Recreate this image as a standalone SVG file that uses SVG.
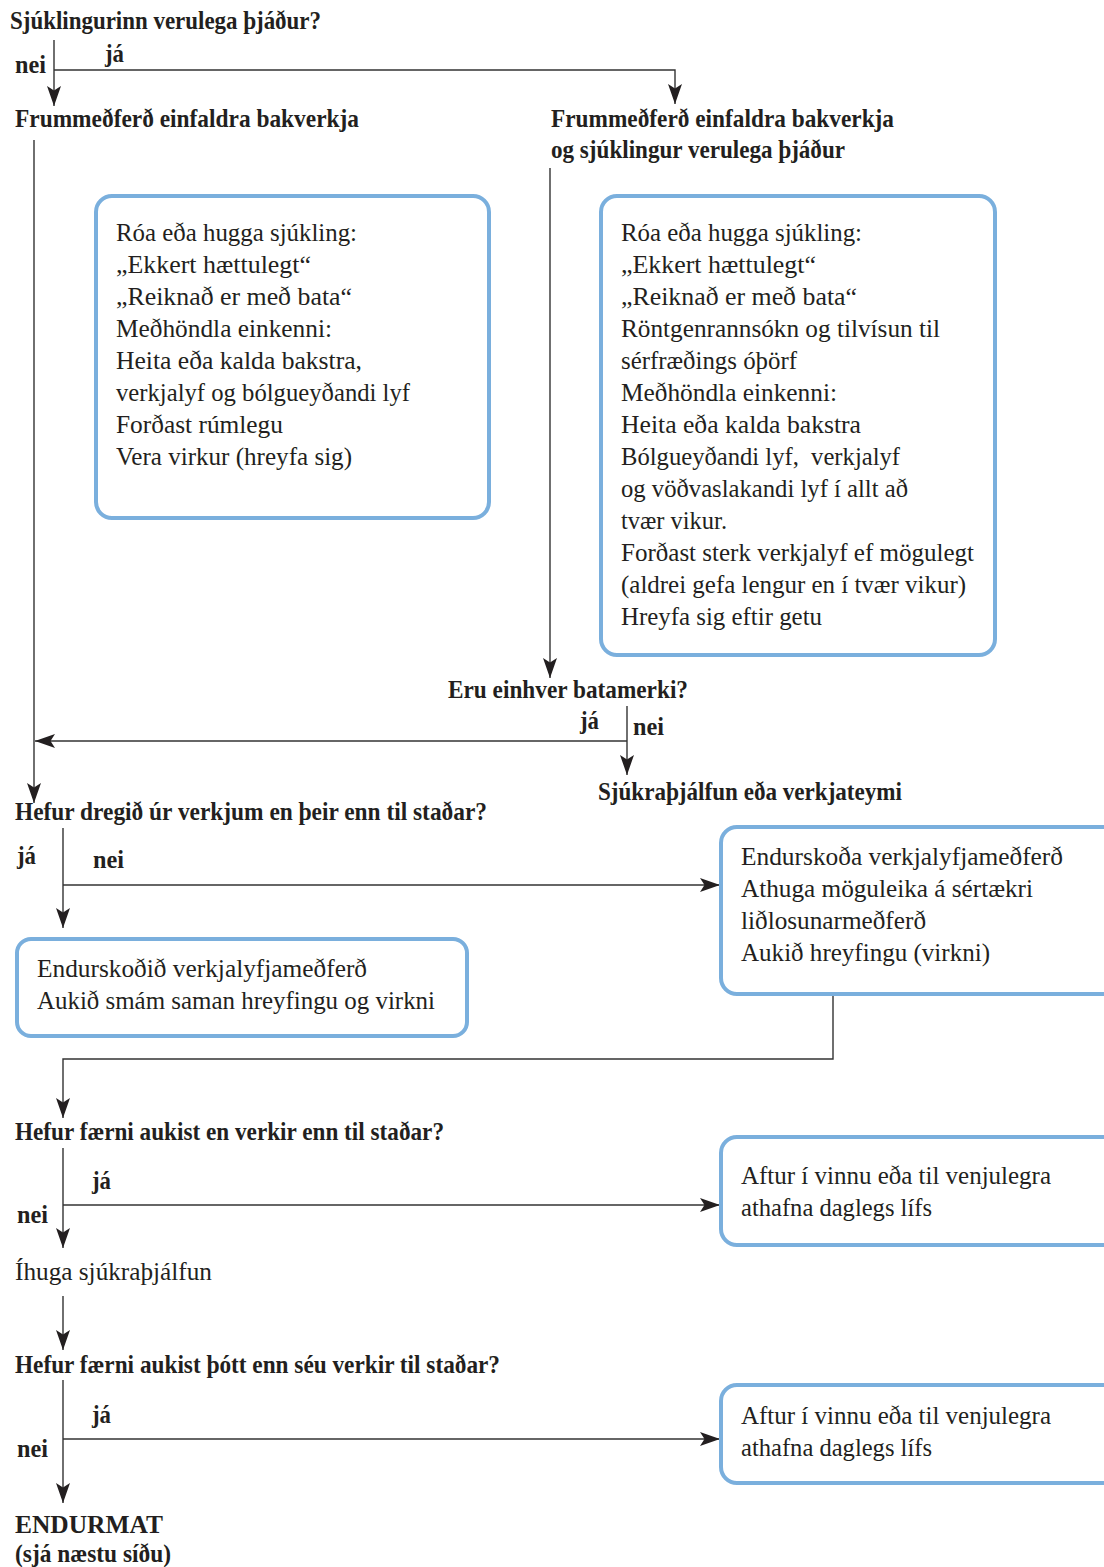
<svg xmlns="http://www.w3.org/2000/svg" width="1104" height="1567" viewBox="0 0 1104 1567">
<style>
.h{font-family:"Liberation Serif","Times New Roman",serif;font-weight:bold;font-size:25px;fill:#231f20}
.t{font-family:"Liberation Serif","Times New Roman",serif;font-size:25px;fill:#231f20}
.box{fill:#fff;stroke:#7aafdd;stroke-width:4}
.c{fill:none;stroke:#333;stroke-width:1.4}
</style>
<defs>
<marker id="ah" markerUnits="userSpaceOnUse" markerWidth="22" markerHeight="16" viewBox="0 -8 22 16" refX="20" refY="0" orient="auto">
<path d="M0,-7 L20,0 L0,7 L4.5,0 Z" fill="#231f20"/>
</marker>
</defs>
<rect width="1104" height="1567" fill="#fff"/>

<g id="connectors">
<path class="c" d="M54,40 V106" marker-end="url(#ah)"/>
<path class="c" d="M54,70 H675 V104" marker-end="url(#ah)"/>
<path class="c" d="M34,140 V803" marker-end="url(#ah)"/>
<path class="c" d="M550,168 V678" marker-end="url(#ah)"/>
<path class="c" d="M627,706 V775" marker-end="url(#ah)"/>
<path class="c" d="M627,741 H35" marker-end="url(#ah)"/>
<path class="c" d="M63,828 V928" marker-end="url(#ah)"/>
<path class="c" d="M63,885 H720" marker-end="url(#ah)"/>
<path class="c" d="M833,994 V1059 H63 V1118" marker-end="url(#ah)"/>
<path class="c" d="M63,1148 V1248" marker-end="url(#ah)"/>
<path class="c" d="M63,1205 H720" marker-end="url(#ah)"/>
<path class="c" d="M63,1296 V1350" marker-end="url(#ah)"/>
<path class="c" d="M63,1380 V1503" marker-end="url(#ah)"/>
<path class="c" d="M63,1439 H720" marker-end="url(#ah)"/>
<text class="h" x="15" y="73" textLength="31" lengthAdjust="spacingAndGlyphs">nei</text>
<text class="h" x="105" y="62" textLength="19" lengthAdjust="spacingAndGlyphs">já</text>
<text class="h" x="580" y="729" textLength="19" lengthAdjust="spacingAndGlyphs">já</text>
<text class="h" x="633" y="735" textLength="31" lengthAdjust="spacingAndGlyphs">nei</text>
<text class="h" x="17" y="864" textLength="19" lengthAdjust="spacingAndGlyphs">já</text>
<text class="h" x="93" y="868" textLength="31" lengthAdjust="spacingAndGlyphs">nei</text>
<text class="h" x="92" y="1189" textLength="19" lengthAdjust="spacingAndGlyphs">já</text>
<text class="h" x="17" y="1223" textLength="31" lengthAdjust="spacingAndGlyphs">nei</text>
<text class="h" x="92" y="1423" textLength="19" lengthAdjust="spacingAndGlyphs">já</text>
<text class="h" x="17" y="1457" textLength="31" lengthAdjust="spacingAndGlyphs">nei</text>
</g>

<g id="q1"><text class="h" x="10" y="29" textLength="311" lengthAdjust="spacingAndGlyphs">Sjúklingurinn verulega þjáður?</text></g>
<g id="left-start"><text class="h" x="15" y="127" textLength="344" lengthAdjust="spacingAndGlyphs">Frummeðferð einfaldra bakverkja</text></g>
<g id="right-start">
<text class="h" x="551" y="127" textLength="343" lengthAdjust="spacingAndGlyphs">Frummeðferð einfaldra bakverkja</text>
<text class="h" x="551" y="158" textLength="294" lengthAdjust="spacingAndGlyphs">og sjúklingur verulega þjáður</text>
</g>

<g id="box-left">
<rect class="box" x="96" y="196" width="393" height="322" rx="16"/>
<text class="t" x="116" y="241" textLength="241" lengthAdjust="spacingAndGlyphs">Róa eða hugga sjúkling:</text>
<text class="t" x="116" y="273" textLength="195" lengthAdjust="spacingAndGlyphs">„Ekkert hættulegt“</text>
<text class="t" x="116" y="305" textLength="236" lengthAdjust="spacingAndGlyphs">„Reiknað er með bata“</text>
<text class="t" x="116" y="337" textLength="216" lengthAdjust="spacingAndGlyphs">Meðhöndla einkenni:</text>
<text class="t" x="116" y="369" textLength="246" lengthAdjust="spacingAndGlyphs">Heita eða kalda bakstra,</text>
<text class="t" x="116" y="401" textLength="294" lengthAdjust="spacingAndGlyphs">verkjalyf og bólgueyðandi lyf</text>
<text class="t" x="116" y="433" textLength="167" lengthAdjust="spacingAndGlyphs">Forðast rúmlegu</text>
<text class="t" x="116" y="465" textLength="236" lengthAdjust="spacingAndGlyphs">Vera virkur (hreyfa sig)</text>
</g>

<g id="box-right">
<rect class="box" x="601" y="196" width="394" height="459" rx="16"/>
<text class="t" x="621" y="241" textLength="241" lengthAdjust="spacingAndGlyphs">Róa eða hugga sjúkling:</text>
<text class="t" x="621" y="273" textLength="195" lengthAdjust="spacingAndGlyphs">„Ekkert hættulegt“</text>
<text class="t" x="621" y="305" textLength="236" lengthAdjust="spacingAndGlyphs">„Reiknað er með bata“</text>
<text class="t" x="621" y="337" textLength="319" lengthAdjust="spacingAndGlyphs">Röntgenrannsókn og tilvísun til</text>
<text class="t" x="621" y="369" textLength="176" lengthAdjust="spacingAndGlyphs">sérfræðings óþörf</text>
<text class="t" x="621" y="401" textLength="216" lengthAdjust="spacingAndGlyphs">Meðhöndla einkenni:</text>
<text class="t" x="621" y="433" textLength="240" lengthAdjust="spacingAndGlyphs">Heita eða kalda bakstra</text>
<text class="t" x="621" y="465" textLength="279" lengthAdjust="spacingAndGlyphs" xml:space="preserve">Bólgueyðandi lyf,  verkjalyf</text>
<text class="t" x="621" y="497" textLength="287" lengthAdjust="spacingAndGlyphs">og vöðvaslakandi lyf í allt að</text>
<text class="t" x="621" y="529" textLength="106" lengthAdjust="spacingAndGlyphs">tvær vikur.</text>
<text class="t" x="621" y="561" textLength="353" lengthAdjust="spacingAndGlyphs">Forðast sterk verkjalyf ef mögulegt</text>
<text class="t" x="621" y="593" textLength="345" lengthAdjust="spacingAndGlyphs">(aldrei gefa lengur en í tvær vikur)</text>
<text class="t" x="621" y="625" textLength="201" lengthAdjust="spacingAndGlyphs">Hreyfa sig eftir getu</text>
</g>

<g id="q2"><text class="h" x="448" y="698" textLength="240" lengthAdjust="spacingAndGlyphs">Eru einhver batamerki?</text></g>
<g id="physio"><text class="h" x="598" y="800" textLength="304" lengthAdjust="spacingAndGlyphs">Sjúkraþjálfun eða verkjateymi</text></g>
<g id="q3"><text class="h" x="15" y="820" textLength="472" lengthAdjust="spacingAndGlyphs">Hefur dregið úr verkjum en þeir enn til staðar?</text></g>

<g id="box-review-left">
<rect class="box" x="17" y="939" width="450" height="97" rx="14"/>
<text class="t" x="37" y="977" textLength="330" lengthAdjust="spacingAndGlyphs">Endurskoðið verkjalyfjameðferð</text>
<text class="t" x="37" y="1009" textLength="398" lengthAdjust="spacingAndGlyphs">Aukið smám saman hreyfingu og virkni</text>
</g>

<g id="box-review-right">
<rect class="box" x="721" y="827" width="400" height="167" rx="16"/>
<text class="t" x="741" y="865" textLength="322" lengthAdjust="spacingAndGlyphs">Endurskoða verkjalyfjameðferð</text>
<text class="t" x="741" y="897" textLength="292" lengthAdjust="spacingAndGlyphs">Athuga möguleika á sértækri</text>
<text class="t" x="741" y="929" textLength="185" lengthAdjust="spacingAndGlyphs">liðlosunarmeðferð</text>
<text class="t" x="741" y="961" textLength="249" lengthAdjust="spacingAndGlyphs">Aukið hreyfingu (virkni)</text>
</g>

<g id="q4"><text class="h" x="15" y="1140" textLength="429" lengthAdjust="spacingAndGlyphs">Hefur færni aukist en verkir enn til staðar?</text></g>

<g id="box-work-1">
<rect class="box" x="721" y="1137" width="400" height="108" rx="16"/>
<text class="t" x="741" y="1184" textLength="310" lengthAdjust="spacingAndGlyphs">Aftur í vinnu eða til venjulegra</text>
<text class="t" x="741" y="1216" textLength="191" lengthAdjust="spacingAndGlyphs">athafna daglegs lífs</text>
</g>

<g id="consider-physio"><text class="t" x="15" y="1280" textLength="197" lengthAdjust="spacingAndGlyphs">Íhuga sjúkraþjálfun</text></g>

<g id="q5"><text class="h" x="15" y="1373" textLength="485" lengthAdjust="spacingAndGlyphs">Hefur færni aukist þótt enn séu verkir til staðar?</text></g>

<g id="box-work-2">
<rect class="box" x="721" y="1385" width="400" height="98" rx="16"/>
<text class="t" x="741" y="1424" textLength="310" lengthAdjust="spacingAndGlyphs">Aftur í vinnu eða til venjulegra</text>
<text class="t" x="741" y="1456" textLength="191" lengthAdjust="spacingAndGlyphs">athafna daglegs lífs</text>
</g>

<g id="reassess">
<text class="h" x="15" y="1533" textLength="148" lengthAdjust="spacingAndGlyphs">ENDURMAT</text>
<text class="h" x="15" y="1562" textLength="156" lengthAdjust="spacingAndGlyphs">(sjá næstu síðu)</text>
</g>
</svg>
